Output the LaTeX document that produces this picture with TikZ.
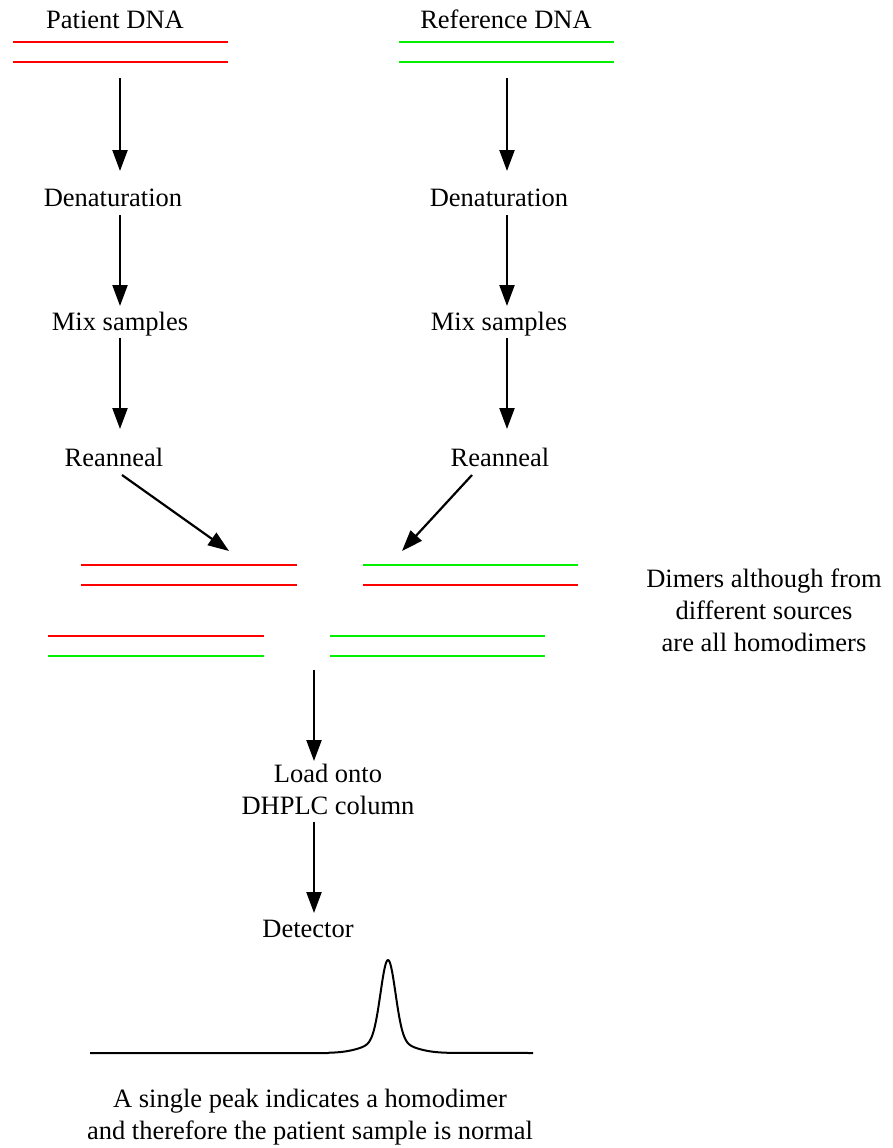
\documentclass[tikz,border=0pt]{standalone}
\usepackage{fontspec}
\setmainfont{Liberation Serif}
\usetikzlibrary{arrows.meta}
\definecolor{dnared}{RGB}{255,0,0}
\definecolor{dnagreen}{RGB}{0,240,0}
\begin{document}
\begin{tikzpicture}[x=1pt,y=-1pt,
  lbl/.style={font=\rmfamily\fontsize{26.5}{32}\selectfont, inner sep=0pt, align=center, anchor=base},
  flow/.style={line width=2.2pt, -{Triangle[width=15pt,length=21pt]}},
  rstrand/.style={line width=2pt, draw=dnared},
  gstrand/.style={line width=2pt, draw=dnagreen},
  trace/.style={line width=2pt, line join=round}]
\useasboundingbox (0,0) rectangle (893,1148);

% labels
\node[lbl] (pdna) at (115,29) {Patient DNA};
\node[lbl] (rdna) at (506,29) {Reference DNA};
\node[lbl] (pden) at (113,206) {Denaturation};
\node[lbl] (rden) at (499,206) {Denaturation};
\node[lbl] (pmix) at (120,330) {Mix samples};
\node[lbl] (rmix) at (499,330) {Mix samples};
\node[lbl] (prea) at (114,466) {Reanneal};
\node[lbl] (rrea) at (500,466) {Reanneal};
\node[lbl] (note) at (764,651) {Dimers although from\\different sources\\are all homodimers};
\node[lbl] (load) at (328,814) {Load onto\\DHPLC column};
\node[lbl] (det) at (308,937) {Detector};
\node[lbl] (concl) at (310,1139) {A single peak indicates a homodimer\\and therefore the patient sample is normal};

% strands
\draw[rstrand] (13,42) -- (228,42);
\draw[rstrand] (13,62) -- (228,62);
\draw[gstrand] (399,42) -- (614,42);
\draw[gstrand] (399,62) -- (614,62);

\draw[rstrand] (81,565) -- (297,565);
\draw[rstrand] (81,585) -- (297,585);
\draw[gstrand] (363,565) -- (578,565);
\draw[rstrand] (363,585) -- (578,585);
\draw[rstrand] (48,636) -- (264,636);
\draw[gstrand] (48,656) -- (264,656);
\draw[gstrand] (330,636) -- (545,636);
\draw[gstrand] (330,656) -- (545,656);

% arrow end points
\coordinate (p1s) at (120,78);  \coordinate (p1e) at (120,171);
\coordinate (p2s) at (120,215); \coordinate (p2e) at (120,306);
\coordinate (p3s) at (120,338); \coordinate (p3e) at (120,429);
\coordinate (r1s) at (507,78);  \coordinate (r1e) at (507,171);
\coordinate (r2s) at (507,215); \coordinate (r2e) at (507,306);
\coordinate (r3s) at (507,338); \coordinate (r3e) at (507,429);
\coordinate (pds) at (122,475); \coordinate (pde) at (229,551);
\coordinate (rds) at (472,475); \coordinate (rde) at (402,551);
\coordinate (m1s) at (314,670); \coordinate (m1e) at (314,761);
\coordinate (m2s) at (314,822); \coordinate (m2e) at (314,913);

\draw[flow] (p1s) -- (p1e);
\draw[flow] (p2s) -- (p2e);
\draw[flow] (p3s) -- (p3e);
\draw[flow] (r1s) -- (r1e);
\draw[flow] (r2s) -- (r2e);
\draw[flow] (r3s) -- (r3e);
\draw[flow] (pds) -- (pde);
\draw[flow] (rds) -- (rde);
\draw[flow] (m1s) -- (m1e);
\draw[flow] (m2s) -- (m2e);

% chromatogram
\draw[trace] (90,1053) -- (328,1053)
  -- plot[domain=328:448, samples=161, smooth] (\x, {1053 - 81*exp(-((\x-388)*(\x-388))/110) - 12*exp(-((\x-388)*(\x-388))/900)})
  -- (533,1053);
\end{tikzpicture}
\end{document}
